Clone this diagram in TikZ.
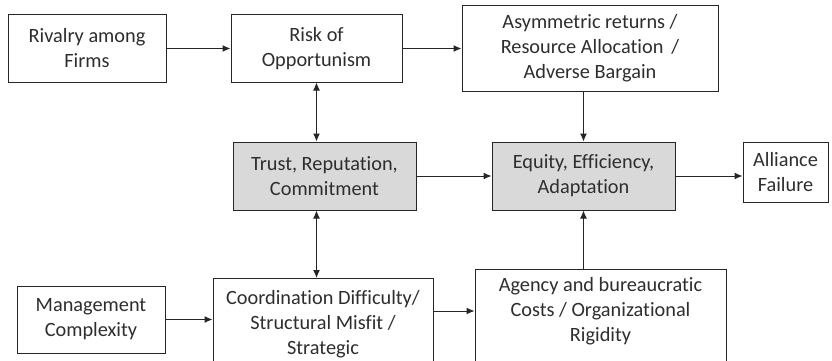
\documentclass[tikz,border=0pt]{standalone}
\usepackage{fontspec}
\setmainfont{Carlito}[Ligatures={NoCommon,NoContextual}]
\usetikzlibrary{arrows.meta}
\definecolor{txtc}{HTML}{2E2E2E}
\definecolor{linec}{HTML}{262626}
\definecolor{shade}{HTML}{D9D9D9}
\tikzset{
  box/.style={draw=linec, line width=1pt, rectangle, align=center, text=txtc,
    font=\fontsize{20.3}{25}\selectfont, inner xsep=4pt, inner ysep=6pt},
  graybox/.style={box, fill=shade},
  conn/.style={draw=linec, line width=1pt, -{Latex[length=8pt,width=7pt]}},
  bconn/.style={draw=linec, line width=1pt, {Latex[length=8pt,width=7pt]}-{Latex[length=8pt,width=7pt]}}
}
\begin{document}
\begin{tikzpicture}[x=1pt,y=-1pt]
\useasboundingbox (0,0) rectangle (832,361);
\fill[white] (0,0) rectangle (832,361);
\clip (0,0) rectangle (832,361);

\node[box, minimum width=158, minimum height=67] (rival) at (87,48.5) {Rivalry among\\Firms};
\node[box, minimum width=171, minimum height=67] (risk) at (316.5,48.5) {Risk of\\Opportunism};
\node[box, minimum width=256, minimum height=85] (asym) at (590,48.5) {Asymmetric returns /\\Resource Allocation \,/\\Adverse Bargain};
\node[graybox, minimum width=183, minimum height=68] (trust) at (324.5,176) {Trust, Reputation,\\Commitment};
\node[graybox, minimum width=183, minimum height=68] (equity) at (583.5,176) {Equity, Efficiency,\\Adaptation};
\node[box, minimum width=85, minimum height=60] (alliance) at (785.5,172) {Alliance\\Failure};
\node[box, minimum width=148, minimum height=67] (mgmt) at (91,319.5) {Management\\Complexity};
\node[box, minimum width=220, anchor=north, inner ysep=12pt] (coord) at (323,278) {Coordination Difficulty/\\Structural Misfit /\\Strategic\\\strut};
\node[box, minimum width=251, anchor=north, inner ysep=8pt] (agency) at (600.5,269) {Agency and bureaucratic\\Costs / Organizational\\Rigidity\\\strut};

\draw[conn] (rival.east) -- (risk.west);
\draw[conn] (risk.east) -- (asym.west);
\draw[bconn] (risk.south) -- (risk.south |- trust.north);
\draw[conn] (trust.east) -- (equity.west);
\draw[conn] (asym.south -| equity.north) -- (equity.north);
\draw[conn] (equity.east) -- (equity.east -| alliance.west);
\draw[bconn] (trust.south -| risk.south) -- (coord.north -| risk.south);
\draw[conn] (mgmt.east) -- (mgmt.east -| coord.west);
\draw[conn] ([yshift=-33pt]coord.north east) -- ([yshift=-33pt]coord.north east -| agency.west);
\draw[conn] (agency.north -| equity.south) -- (equity.south);
\end{tikzpicture}
\end{document}
